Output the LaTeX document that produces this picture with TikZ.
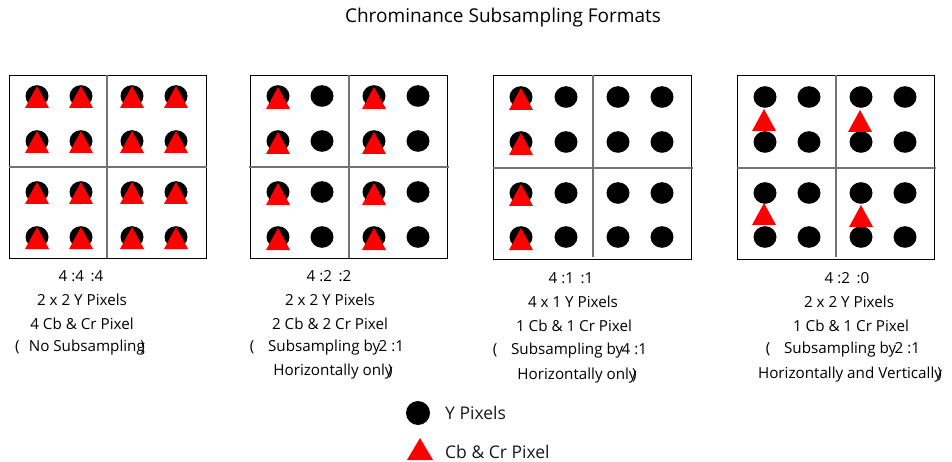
\documentclass[tikz,border=0pt]{standalone}
\usepackage{fontspec}
\setmainfont{Open Sans}
% a luma sample (black dot) and a chroma sample (red triangle, apex x/y given)
\newcommand\lumadot[2]{\fill[ypix] (#1,#2) ellipse [x radius=11.5, y radius=10.8];}
\newcommand\chromatri[2]{\fill[cbcr] (#1,#2) -- ++(12,22) -- ++(-24,0) -- cycle;}
\begin{document}
\begin{tikzpicture}[x=1pt,y=-1pt,
  ypix/.style={fill=black},
  cbcr/.style={fill=red},
  frame/.style={draw=black,line width=0.9pt},
  divider/.style={draw=black!55,line width=1.2pt},
  lbl/.style={font=\fontsize{15.2}{18}\selectfont,inner sep=0pt,text=black},
  heading/.style={font=\fontsize{19}{22}\selectfont,inner sep=0pt,text=black},
  legendtxt/.style={font=\fontsize{17.5}{20}\selectfont,inner sep=0pt,anchor=west,text=black!90}]
\useasboundingbox (0,0) rectangle (952,462);

\node[heading] (title) at (503,18) {Chrominance Subsampling Formats};

% ---- 4:4:4 ----
\draw[frame] (9,75) rectangle (206,258);
\draw[divider] (107,75) -- (107,258);
\draw[divider] (9,167) -- (207,167);
\foreach \px in {37,81,132,176}
  \foreach \py in {96,141,192,237}{
    \lumadot{\px}{\py}
    \chromatri{\px}{\py-10}
  }
\node[lbl] (a1) at (81,276) {4 :4 \,:4};
\node[lbl] (a2) at (82,300) {2 x 2 Y Pixels};
\node[lbl] (a3) at (82,324) {4 Cb \& Cr Pixel};
\node[lbl] (a4) at (80,348) {(\hspace{0.6em}No Subsampling\kern-0.3em)};

% ---- 4:2:2 ----
\draw[frame] (250,75) rectangle (447,258);
\draw[divider] (349,75) -- (349,258);
\draw[divider] (249,167) -- (449,167);
\foreach \px in {278,322,374,418}
  \foreach \py in {96,141,192,237}
    \lumadot{\px}{\py};
\foreach \px in {278,374}
  \foreach \py in {96,141,192,237}
    \chromatri{\px}{\py-9};
\node[lbl] (b1) at (329,276) {4 :2 \,:2};
\node[lbl] (b2) at (330,300) {2 x 2 Y Pixels};
\node[lbl] (b3) at (330,324) {2 Cb \& 2 Cr Pixel};
\node[lbl] (b4) at (327,348) {(\hspace{0.9em}Subsampling by\kern-0.1em 2 :1};
\node[lbl] (b5) at (333,372) {Horizontally only\kern-0.3em)};

% ---- 4:1:1 ----
\draw[frame] (493,75) rectangle (691,259);
\draw[divider] (593,75) -- (593,257);
\draw[divider] (493,168) -- (693,168);
\foreach \px in {521,566,618,662}
  \foreach \py in {97,142,193,237}
    \lumadot{\px}{\py};
\foreach \py in {97,142,193,237}
  \chromatri{521}{\py-9};
\node[lbl] (c1) at (571,278) {4 :1 \,:1};
\node[lbl] (c2) at (573,302) {4 x 1 Y Pixels};
\node[lbl] (c3) at (574,326) {1 Cb \& 1 Cr Pixel};
\node[lbl] (c4) at (570,351) {(\hspace{0.9em}Subsampling by\kern-0.1em 4 :1};
\node[lbl] (c5) at (577,376) {Horizontally only\kern-0.3em)};

% ---- 4:2:0 ----
\draw[frame] (737,75) rectangle (934,259);
\draw[divider] (836,75) -- (836,257);
\draw[divider] (737,168) -- (936,168);
\foreach \px in {765,809,861,905}
  \foreach \py in {97,142,193,237}
    \lumadot{\px}{\py};
\chromatri{764}{109}
\chromatri{860}{110}
\chromatri{764}{203}
\chromatri{861}{205}
\node[lbl] (d1) at (847,278) {4 :2 \,:0};
\node[lbl] (d2) at (849,302) {2 x 2 Y Pixels};
\node[lbl] (d3) at (851,326) {1 Cb \& 1 Cr Pixel};
\node[lbl] (d4) at (843,350) {(\hspace{0.9em}Subsampling by\kern-0.1em 2 :1};
\node[lbl] (d5) at (850,375) {Horizontally and Vertically\kern-0.3em)};

% ---- legend ----
\fill[ypix] (418,413) circle [radius=12];
\fill[cbcr] (420,438) -- ++(13,22) -- ++(-26,0) -- cycle;
\node[legendtxt] (ly) at (445,413) {Y Pixels};
\node[legendtxt] (lc) at (445,452) {Cb \& Cr Pixel};
\end{tikzpicture}
\end{document}
